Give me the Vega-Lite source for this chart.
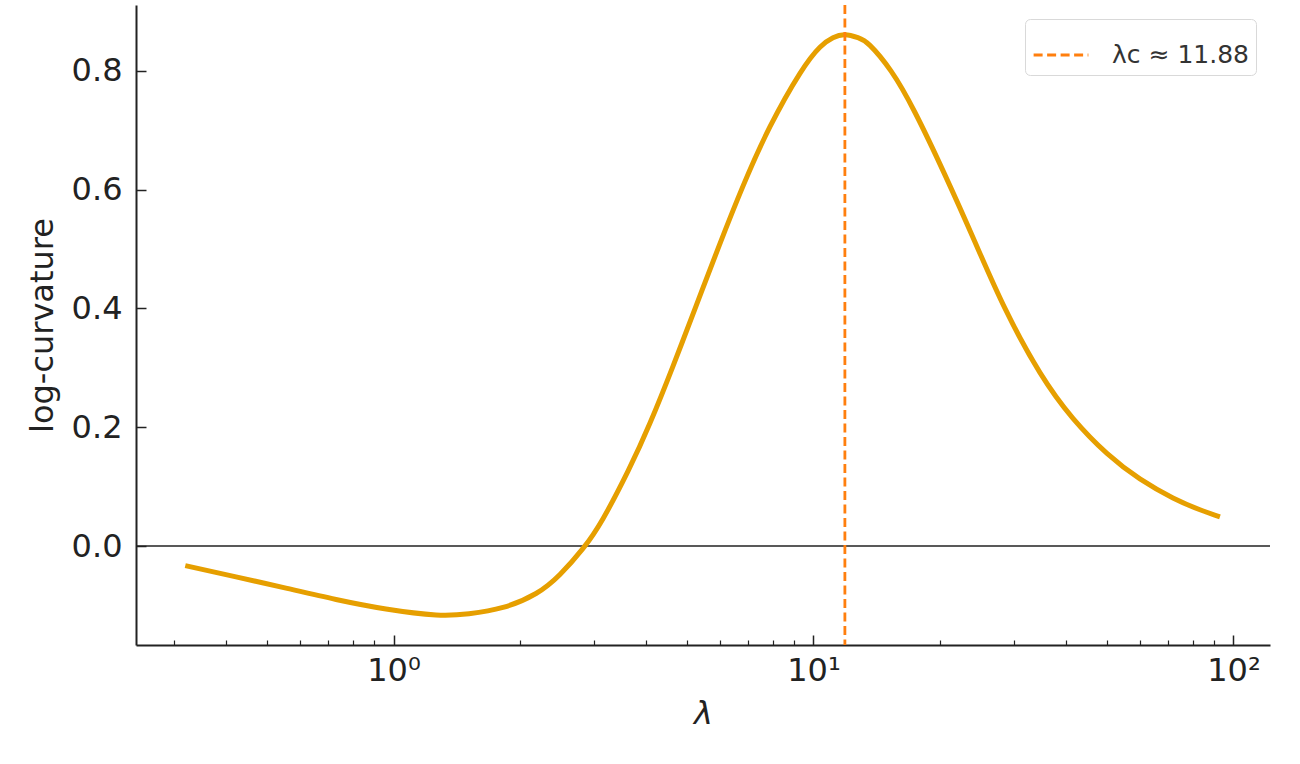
{
  "$schema": "https://vega.github.io/schema/vega-lite/v6.json",
  "width": 1134,
  "height": 640,
  "autosize": {"type": "none"},
  "padding": {"left": 136, "top": 5, "right": 30, "bottom": 119},
  "background": "white",
  "config": {
    "view": {"stroke": null},
    "font": "DejaVu Sans",
    "axis": {"grid": false, "domainColor": "#222222", "domainWidth": 2, "tickColor": "#222222", "tickWidth": 1.5, "labelColor": "#222222", "titleColor": "#222222", "labelFont": "DejaVu Sans", "titleFont": "DejaVu Sans", "labelFontSize": 32, "titleFontSize": 32, "titleFontWeight": "normal"}
  },
  "datasets": {
    "curve": [
      {"lambda": 0.3193, "value": -0.033},
      {"lambda": 0.4217, "value": -0.052},
      {"lambda": 0.5546, "value": -0.071},
      {"lambda": 0.7297, "value": -0.090},
      {"lambda": 0.9597, "value": -0.106},
      {"lambda": 1.262, "value": -0.116},
      {"lambda": 1.513, "value": -0.114},
      {"lambda": 1.823, "value": -0.1035},
      {"lambda": 2.184, "value": -0.080},
      {"lambda": 2.491, "value": -0.048},
      {"lambda": 2.827, "value": -0.004},
      {"lambda": 3.154, "value": 0.046},
      {"lambda": 3.617, "value": 0.126},
      {"lambda": 4.081, "value": 0.207},
      {"lambda": 4.630, "value": 0.303},
      {"lambda": 5.252, "value": 0.404},
      {"lambda": 5.957, "value": 0.505},
      {"lambda": 6.795, "value": 0.606},
      {"lambda": 7.879, "value": 0.706},
      {"lambda": 9.288, "value": 0.796},
      {"lambda": 10.36, "value": 0.840},
      {"lambda": 11.13, "value": 0.856},
      {"lambda": 11.88, "value": 0.861},
      {"lambda": 12.76, "value": 0.856},
      {"lambda": 13.63, "value": 0.843},
      {"lambda": 15.29, "value": 0.800},
      {"lambda": 17.45, "value": 0.730},
      {"lambda": 20.56, "value": 0.625},
      {"lambda": 24.24, "value": 0.512},
      {"lambda": 28.58, "value": 0.400},
      {"lambda": 34.62, "value": 0.292},
      {"lambda": 41.49, "value": 0.215},
      {"lambda": 49.99, "value": 0.156},
      {"lambda": 59.90, "value": 0.113},
      {"lambda": 71.78, "value": 0.081},
      {"lambda": 83.24, "value": 0.061},
      {"lambda": 92.87, "value": 0.049}
    ],
    "crit": [{"lambda": 11.88, "label": "λc ≈ 11.88"}]
  },
  "resolve": {"axis": {"x": "independent"}},
  "layer": [
    {
      "data": {"values": [{"zero": 0}]},
      "mark": {"type": "rule", "color": "#222222", "strokeWidth": 1.5},
      "encoding": {
        "y": {"field": "zero", "type": "quantitative", "scale": {"domain": [-0.1667, 0.911], "nice": false, "zero": false}, "axis": {"values": [0, 0.2, 0.4, 0.6, 0.8], "format": ".1f", "tickSize": -10, "labelPadding": 24, "domain": true, "title": "log-curvature", "titlePadding": 12}}
      }
    },
    {
      "data": {"name": "curve"},
      "mark": {"type": "line", "color": "#E69F00", "strokeWidth": 5, "interpolate": "natural"},
      "encoding": {
        "x": {"field": "lambda", "type": "quantitative", "scale": {"type": "log", "domain": [0.2437, 122.2], "nice": false}, "axis": {"orient": "bottom", "values": [1, 10, 100], "labelExpr": "datum.value == 1 ? '10⁰' : datum.value == 10 ? '10¹' : '10²'", "tickSize": -10, "labelPadding": 20, "title": "λ", "titleFontStyle": "italic", "titlePadding": 12}},
        "y": {"field": "value", "type": "quantitative", "scale": {"domain": [-0.1667, 0.911], "nice": false, "zero": false}, "axis": {"values": [0, 0.2, 0.4, 0.6, 0.8], "format": ".1f", "tickSize": -10, "labelPadding": 24, "title": "log-curvature", "titlePadding": 12}}
      }
    },
    {
      "data": {"name": "crit"},
      "mark": {"type": "rule", "strokeWidth": 2.8, "strokeDash": [9, 4.5]},
      "encoding": {
        "x": {"field": "lambda", "type": "quantitative", "scale": {"type": "log", "domain": [0.2437, 122.2], "nice": false}, "axis": {"orient": "bottom", "values": [0.3, 0.4, 0.5, 0.6, 0.7, 0.8, 0.9, 2, 3, 4, 5, 6, 7, 8, 9, 20, 30, 40, 50, 60, 70, 80, 90], "labels": false, "domain": false, "tickSize": -5, "tickWidth": 1.2, "title": null}},
        "color": {"field": "label", "type": "nominal", "scale": {"range": ["#ff7f0e"]}, "legend": {"title": null, "orient": "top-right", "offset": 14, "symbolType": "stroke", "symbolSize": 3000, "symbolStrokeWidth": 2.8, "symbolDash": [9, 4.5], "labelFontSize": 25, "labelColor": "#333333", "labelFont": "DejaVu Sans", "strokeColor": "#d9d9d9", "fillColor": "white", "cornerRadius": 5, "padding": 7, "labelOffset": 22}}
      }
    }
  ]
}
